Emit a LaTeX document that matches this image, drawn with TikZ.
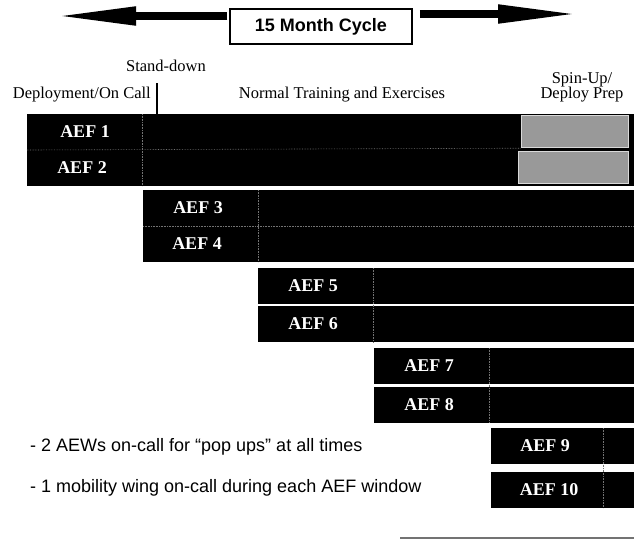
\documentclass[tikz,border=0pt]{standalone}
\usepackage{fontspec}
\setmainfont{Liberation Serif}
\setsansfont{Liberation Sans}
\usetikzlibrary{positioning, arrows.meta}

\begin{document}
\begin{tikzpicture}[
        x=1pt, y=-1pt,
        aefbar/.style={
            rectangle,
            fill=black,
            draw=none,
            inner sep=0pt,
            outer sep=0pt,
            anchor=north west,
            minimum height=36pt
        },
        aeflabel/.style={
            text=white,
            inner sep=0pt,
            font=\fontsize{18}{20}\selectfont\bfseries
        },
        spinbox/.style={
            rectangle,
            fill=black!40,
            draw=black!15,
            line width=1.2pt,
            inner sep=0pt,
            anchor=north west
        },
        divider/.style={
            draw=black!55,
            densely dotted,
            line width=0.6pt
        },
        phase/.style={
            inner sep=0pt,
            font=\fontsize{16.5}{15}\selectfont
        },
        note/.style={
            anchor=west,
            inner sep=0pt,
            font=\sffamily\fontsize{18}{20}\selectfont
        },
        titlebox/.style={
            rectangle,
            draw=black,
            line width=1.5pt,
            minimum width=182pt,
            minimum height=35pt,
            font=\sffamily\bfseries\fontsize{18}{20}\selectfont
        },
        cyclearrow/.style={
            -{Triangle[length=82pt, width=17pt]},
            line width=8pt,
            draw=black
        }
    ]

    \useasboundingbox (0,0) rectangle (634,542);

    % Titre et fleches du cycle
    \node[titlebox] (title) at (321,26.5) {15 Month Cycle};
    \coordinate (lefttip) at (54,16);
    \coordinate (righttip) at (580,14);
    \draw[cyclearrow, shorten <=2pt] (title.west |- lefttip) -- (lefttip);
    \draw[cyclearrow, shorten <=7pt] (title.east |- righttip) -- (righttip);

    % Phases
    \node[phase] (standdown) at (166,66) {Stand-down};
    \node[phase, anchor=east] (deploy) at (151,95) {Deployment/On Call};
    \node[phase] (normal) at (342,95) {Normal Training and Exercises};
    \node[phase, align=center] (spinup) at (582,87) {Spin-Up/\\Deploy Prep};

    % Barres AEF
    \node[aefbar, minimum width=607pt] (bar1) at (27,114) {};
    \node[aefbar, minimum width=607pt] (bar2) at (27,150) {};
    \node[aefbar, minimum width=491pt] (bar3) at (143,190) {};
    \node[aefbar, minimum width=491pt] (bar4) at (143,226) {};
    \node[aefbar, minimum width=376pt] (bar5) at (258,268) {};
    \node[aefbar, minimum width=376pt] (bar6) at (258,306) {};
    \node[aefbar, minimum width=260pt] (bar7) at (374,348) {};
    \node[aefbar, minimum width=260pt] (bar8) at (374,387) {};
    \node[aefbar, minimum width=143pt] (bar9) at (491,428) {};
    \node[aefbar, minimum width=143pt] (bar10) at (491,472) {};

    % Spin-up
    \node[spinbox, minimum width=107pt, minimum height=32pt] (spin1) at (521,115) {};
    \node[spinbox, minimum width=110pt, minimum height=32pt] (spin2) at (518,151) {};

    % Separateurs
    \draw[divider] ([xshift=115pt]bar1.north west) -- ([xshift=115pt]bar2.south west);
    \draw[divider] ([xshift=115pt]bar3.north west) -- ([xshift=115pt]bar4.south west);
    \draw[divider] ([xshift=115pt]bar5.north west) -- ([xshift=115pt]bar6.south west);
    \draw[divider] ([xshift=115pt]bar7.north west) -- ([xshift=115pt]bar8.south west);
    \draw[divider] ([xshift=112pt]bar9.north west) -- ([xshift=112pt]bar10.south west);
    \draw[divider] (bar1.south west) -- (spin1.south west);
    \draw[divider] (bar3.south west) -- (bar3.south east);

    % Etiquettes
    \node[aeflabel] (lab1) at ([xshift=58pt]bar1.west) {AEF 1};
    \node[aeflabel] (lab2) at ([xshift=55pt]bar2.west) {AEF 2};
    \node[aeflabel] (lab3) at ([xshift=55pt]bar3.west) {AEF 3};
    \node[aeflabel] (lab4) at ([xshift=54pt]bar4.west) {AEF 4};
    \node[aeflabel] (lab5) at ([xshift=55pt]bar5.west) {AEF 5};
    \node[aeflabel] (lab6) at ([xshift=55pt]bar6.west) {AEF 6};
    \node[aeflabel] (lab7) at ([xshift=55pt]bar7.west) {AEF 7};
    \node[aeflabel] (lab8) at ([xshift=55pt]bar8.west) {AEF 8};
    \node[aeflabel] (lab9) at ([xshift=54pt]bar9.west) {AEF 9};
    \node[aeflabel] (lab10) at ([xshift=58pt]bar10.west) {AEF 10};

    % Stand-down
    \coordinate (sdtop) at (157,83);
    \draw[line width=1.2pt] (sdtop) -- (sdtop |- bar1.north);

    % Notes
    \node[note] (note1) at (30,447) {- 2 AEWs on-call for ``pop ups'' at all times};
    \node[note] (note2) at (30,488) {- 1 mobility wing on-call during each AEF window};

    \draw[black!55, line width=1.5pt] (400,538) -- (634,538);

    \end{tikzpicture}
\end{document}
